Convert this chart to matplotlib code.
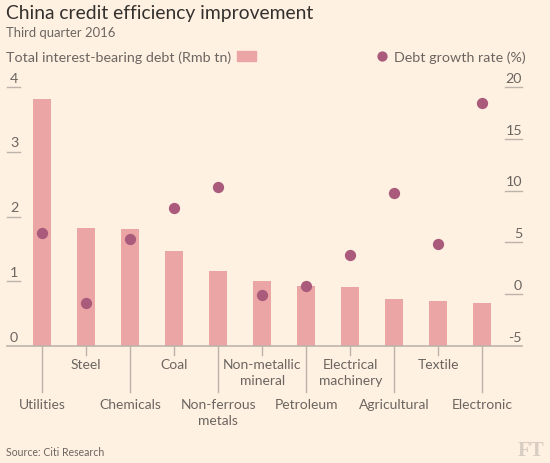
import matplotlib
matplotlib.use("Agg")
import matplotlib.pyplot as plt
import numpy as np

plt.rcParams['font.family'] = ['Lato', 'DejaVu Sans']

categories = ["Utilities", "Steel", "Chemicals", "Coal", "Non-ferrous\nmetals",
              "Non-metallic\nmineral", "Petroleum", "Electrical\nmachinery",
              "Agricultural", "Textile", "Electronic"]
debt = [3.81, 1.82, 1.81, 1.47, 1.16, 1.01, 0.92, 0.91, 0.73, 0.70, 0.66]
growth = [5.87, -0.85, 5.28, 8.33, 10.31, -0.1, 0.81, 3.75, 9.73, 4.80, 18.44]
left_ticks = [0, 1, 2, 3, 4]
right_ticks = [-5, 0, 5, 10, 15, 20]

BG = "#fff1e2"
BAR = "#eba5a5"
DOT = "#aa5b7c"
TXT = "#6b6560"
AX = "#bcb3aa"

W, H = 550, 463
fig = plt.figure(figsize=(W / 100, H / 100), dpi=100, facecolor=BG)

def fx(px):
    return px / W

def fy(py):
    return 1 - py / H

ax_l, ax_r, ax_b, ax_t = 7, 522, 346, 87
axw = ax_r - ax_l
axh = ax_b - ax_t
ax = fig.add_axes([fx(ax_l), fy(ax_b), fx(axw), axh / H])
ax.set_facecolor(BG)
ax2 = ax.twinx()

x = np.arange(len(categories))
ax.bar(x, debt, width=0.416, color=BAR, zorder=2)
ax2.scatter(x, growth, s=66, color=DOT, zorder=3, clip_on=False, linewidths=0)

ax.set_xlim(-0.802, 10.902)
ax.set_ylim(0, 4)
ax2.set_ylim(-5, 20)

for a in (ax, ax2):
    for s in a.spines.values():
        s.set_visible(False)
    a.set_yticks([])
    a.set_xticks([])

# baseline
ax.plot([0, 1], [0, 0], transform=ax.transAxes, color=AX, lw=1.2, clip_on=False, zorder=4)

def frac_y(py):
    return (ax_b - py) / axh

def frac_x(px):
    return (px - ax_l) / axw

# left tick labels
for v in left_ticks[1:]:
    ax.plot([0, frac_x(20)], [v, v], transform=ax.get_yaxis_transform(), color=AX,
            lw=1, clip_on=False)
for v in left_ticks:
    ax.text(frac_x(10), v + 0.035, str(v), transform=ax.get_yaxis_transform(),
            ha='left', va='bottom', fontsize=10.3, color=TXT)
# right tick labels
for v in right_ticks[1:]:
    ax2.plot([frac_x(505), 1], [v, v], transform=ax2.get_yaxis_transform(),
             color=AX, lw=1, clip_on=False)
for v in right_ticks:
    ax2.text(1, v + 0.22, str(v), transform=ax2.get_yaxis_transform(),
             ha='right', va='bottom', fontsize=10.3, color=TXT)

# category ticks and labels
xt = ax.get_xaxis_transform()
for i, lab in enumerate(categories):
    long = (i % 2 == 0)
    end = 392 if long else 355
    ax.plot([i, i], [0, frac_y(end)], transform=xt, color=AX, lw=1, clip_on=False)
    base = 409 if long else 369.3
    for j, line in enumerate(lab.split("\n")):
        ax.text(i, frac_y(base + 16 * j), line, transform=xt, ha='center',
                va='baseline', fontsize=10, color=TXT)

# titles
fig.text(fx(6), fy(19), "China credit efficiency improvement", fontsize=13.9,
         color="#33302e", va='baseline', ha='left')
fig.text(fx(6), fy(36.7), "Third quarter 2016", fontsize=9.4, color=TXT,
         va='baseline', ha='left')
fig.text(fx(6), fy(61.7), "Total interest-bearing debt (Rmb tn)", fontsize=10.3,
         color=TXT, va='baseline', ha='left')
fig.patches.append(plt.Rectangle((fx(236.7), fy(61)), fx(19.3), 10.3 / H,
                                 transform=fig.transFigure, color=BAR))
fig.add_artist(plt.Line2D([fx(382.3)], [fy(55.5)], marker='o', markersize=7.4,
                          color=DOT, markeredgewidth=0, transform=fig.transFigure))
fig.text(fx(394), fy(61.7), "Debt growth rate (%)", fontsize=10.3, color=TXT,
         va='baseline', ha='left')

fig.text(fx(5.5), fy(456), "Source: Citi Research", fontsize=7.6, color=TXT,
         va='baseline', ha='left')
fig.text(fx(544), fy(456), "FT", fontsize=15, color="#d8cdc2", va='baseline',
         ha='right', weight='bold', family=['Liberation Serif', 'DejaVu Serif'])

fig.savefig("out.png", dpi=100, facecolor=BG)
